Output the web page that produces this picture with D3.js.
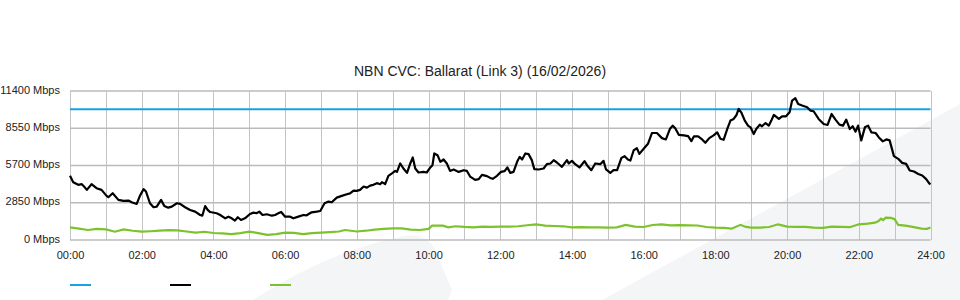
<!DOCTYPE html>
<html>
<head>
<meta charset="utf-8">
<script src="https://cdn.jsdelivr.net/npm/d3@7"></script>
<style>
  body { margin: 0; background: #fff; }
  svg { display: block; font-family: "Liberation Sans", Arial, sans-serif; }
</style>
</head>
<body>
<svg width="960" height="300"></svg>
<script>
// chart values
var title = "NBN CVC: Ballarat (Link 3) (16/02/2026)";
var yTicks = [0, 2850, 5700, 8550, 11400];
var xTickHours = [0, 2, 4, 6, 8, 10, 12, 14, 16, 18, 20, 22, 24];
var capacity = 10000;

var totalHours = [0.00,0.09,0.23,0.33,0.39,0.47,0.60,0.74,0.88,1.02,1.07,1.19,1.35,1.49,1.63,1.72,1.86,1.95,
  2.05,2.12,2.23,2.33,2.42,2.54,2.63,2.74,2.84,2.98,3.07,3.21,3.35,3.49,3.63,3.69,3.77,3.84,3.91,
  4.09,4.19,4.33,4.42,4.51,4.60,4.68,4.77,4.88,5.02,5.12,5.20,5.28,5.37,5.49,5.63,5.72,5.81,5.89,
  6.00,6.14,6.23,6.37,6.51,6.60,6.74,6.88,6.98,7.10,7.21,7.30,7.44,7.58,7.72,7.81,7.91,
  8.00,8.09,8.19,8.28,8.37,8.46,8.56,8.65,8.70,8.79,8.88,9.00,9.07,9.12,9.21,9.30,9.40,9.49,9.56,9.63,9.72,9.86,9.95,
  10.05,10.11,10.16,10.25,10.33,10.42,10.51,10.60,10.70,10.84,10.98,11.07,11.16,11.30,11.40,11.49,11.63,11.72,11.79,11.91,
  12.02,12.12,12.20,12.28,12.37,12.47,12.54,12.61,12.70,12.79,12.88,12.95,13.07,13.21,13.30,13.40,13.49,13.58,13.72,13.86,13.91,
  14.00,14.09,14.21,14.35,14.42,14.54,14.65,14.79,14.88,14.95,15.07,15.16,15.26,15.38,15.47,15.56,15.63,15.72,15.81,15.88,
  16.00,16.12,16.23,16.37,16.51,16.62,16.73,16.81,16.88,16.98,17.12,17.24,17.33,17.40,17.52,17.61,17.72,17.83,17.95,
  18.05,18.14,18.23,18.33,18.42,18.51,18.59,18.65,18.73,18.82,18.91,18.98,19.07,19.14,19.24,19.30,19.40,19.49,19.56,19.63,19.77,19.86,19.97,
  20.07,20.14,20.23,20.31,20.42,20.56,20.65,20.74,20.88,21.02,21.13,21.24,21.35,21.46,21.56,21.65,21.75,21.83,21.91,21.98,
  22.07,22.17,22.26,22.35,22.47,22.56,22.67,22.77,22.86,22.98,23.10,23.21,23.32,23.42,23.54,23.66,23.77,23.88,23.97,24.00];
var totalMbps = [4910,4425,4220,4270,4100,3835,4270,3965,3835,3375,3275,3580,3070,2990,3015,2890,2760,3375,
  3890,3705,2810,2505,2550,3070,2605,2475,2550,2810,2760,2505,2300,2170,1915,1860,2600,2300,2140,
  2045,1915,1660,1785,1660,1480,1740,1530,1660,1990,2095,2045,2170,1915,1970,1860,1915,2045,2145,
  1785,1785,1660,1785,1915,1890,2120,2170,2220,2810,2940,2890,3245,3375,3505,3570,3780,
  3760,3835,4090,4010,4165,4220,4350,4270,4425,4270,4910,5135,5285,5210,5855,5470,5135,5855,6315,5470,5165,5210,5165,
  5550,5725,6620,6490,5980,6160,5855,5285,5395,5210,5340,5285,4855,4600,4655,4985,4890,4750,4680,4910,
  5210,5265,5550,5135,5210,5980,6360,6160,6620,6570,6110,5420,5395,5470,5800,5855,6110,5930,5595,6110,5855,
  6055,5800,5550,6030,5725,5340,5855,5800,6055,5395,5135,5340,5340,6285,6415,6160,6080,6850,7030,6590,
  6975,7360,8185,8185,7795,7695,8490,8750,8545,8050,8005,7950,7565,7925,7925,7745,7435,7795,8005,
  8240,7745,7665,8490,9135,9260,9565,10030,9720,9135,8750,8620,8110,8490,8830,8700,8950,8750,9135,9565,9260,9465,9465,
  9775,10670,10850,10410,10285,10155,9900,9850,9260,8875,8800,9640,9210,8830,8750,9210,8490,8700,8290,8750,
  7620,8620,8750,8240,8185,7850,7545,7695,7620,6415,6210,5900,5825,5315,5240,5055,4935,4655,4320,4270];

var otherHours = [0,0.25,0.5,0.75,1,1.15,1.25,1.5,1.75,2,2.25,2.5,2.75,3,3.25,3.5,3.75,4,4.25,4.5,4.75,5,5.25,5.5,5.75,
  6,6.25,6.5,6.75,7,7.25,7.5,7.67,8,8.25,8.5,8.75,9,9.25,9.5,9.75,10,10.1,10.4,10.55,10.75,11,11.25,11.5,11.75,
  12,12.25,12.5,12.75,13,13.25,13.5,13.75,14,14.25,14.5,14.75,15,15.25,15.5,15.75,16,16.25,16.5,16.75,17,17.25,17.5,17.75,
  18,18.25,18.45,18.7,18.85,19,19.25,19.5,19.75,20,20.25,20.5,20.75,21,21.25,21.5,21.75,22,22.25,22.45,22.55,22.62,22.68,22.75,22.9,
  23,23.1,23.3,23.5,23.75,23.9,24];
var otherMbps = [970,870,764,850,815,710,634,815,710,634,670,710,750,740,650,565,630,535,500,457,530,634,530,390,450,
  565,550,457,530,565,600,650,764,650,710,800,850,890,890,790,764,850,1095,1095,970,1050,1000,970,1020,1000,
  1020,1020,1050,1130,1200,1100,1070,1050,970,990,970,970,950,970,1150,1020,995,1150,1200,1125,1140,1125,1110,995,
  950,930,865,1160,1000,950,950,995,1200,1020,1010,1010,950,930,1020,1000,980,1200,1250,1325,1450,1630,1530,1710,1690,
  1600,1150,1100,1000,865,850,950];

var seriesColors = ["#1ba1e2", "#000000", "#7cc22d"];

var svg = d3.select("svg"),
    plotLeft = 70, plotRight = 930.5, plotTop = 91, plotBottom = 240;

// faint background swooshes
svg.append("path")
  .attr("d", "M253,300 Q330,250 405,236 Q428,233 436,252 L452,290 L448,300 Z")
  .attr("fill", "#f4f5f7");
svg.append("path")
  .attr("d", "M602,300 L960,104 L960,300 Z")
  .attr("fill", "#f4f5f7");

var x = d3.scaleLinear().domain([0, 24]).range([plotLeft, plotRight]);
var y = d3.scaleLinear().domain([0, 11400]).range([plotBottom, plotTop]);

// vertical grid, every hour
svg.append("g")
  .selectAll("line")
  .data(d3.range(0, 25))
  .enter().append("line")
  .attr("x1", function(d) { return Math.round(x(d)) + 0.5; })
  .attr("x2", function(d) { return Math.round(x(d)) + 0.5; })
  .attr("y1", plotTop).attr("y2", plotBottom)
  .attr("stroke", "#c4c4c4");

// horizontal grid
svg.append("g")
  .selectAll("line")
  .data(yTicks)
  .enter().append("line")
  .attr("x1", plotLeft).attr("x2", plotRight)
  .attr("y1", function(d) { return y(d); })
  .attr("y2", function(d) { return y(d); })
  .attr("stroke", "#bbbbbb")
  .attr("stroke-width", 1.5);

// axes text
var yAxis = svg.append("g")
  .attr("transform", "translate(" + plotLeft + ",0)")
  .call(d3.axisLeft(y).tickValues(yTicks).tickSize(0).tickPadding(10)
    .tickFormat(function(d) { return d + " Mbps"; }));
yAxis.select(".domain").remove();
yAxis.selectAll("text").attr("font-size", "11px").attr("fill", "#222")
  .attr("font-family", "Liberation Sans, Arial, sans-serif").attr("dy", "0.2em");

var xAxis = svg.append("g")
  .attr("transform", "translate(0," + plotBottom + ")")
  .call(d3.axisBottom(x).tickValues(xTickHours).tickSize(0).tickPadding(11)
    .tickFormat(function(d) { return (d < 10 ? "0" : "") + d + ":00"; }));
xAxis.select(".domain").remove();
xAxis.selectAll("text").attr("font-size", "11px").attr("fill", "#222")
  .attr("font-family", "Liberation Sans, Arial, sans-serif");

svg.append("text")
  .attr("x", 480)
  .attr("y", 76)
  .attr("text-anchor", "middle")
  .attr("font-size", "14px")
  .attr("fill", "#222")
  .text(title);

// capacity
svg.append("line")
  .attr("x1", plotLeft).attr("x2", plotRight)
  .attr("y1", y(capacity)).attr("y2", y(capacity))
  .attr("stroke", seriesColors[0])
  .attr("stroke-width", 2);

var line = d3.line()
  .x(function(d) { return x(d[0]); })
  .y(function(d) { return y(d[1]); });

svg.append("path")
  .datum(d3.zip(otherHours, otherMbps))
  .attr("d", line)
  .attr("fill", "none")
  .attr("stroke", seriesColors[2])
  .attr("stroke-width", 2.2);

svg.append("path")
  .datum(d3.zip(totalHours, totalMbps))
  .attr("d", line)
  .attr("fill", "none")
  .attr("stroke", seriesColors[1])
  .attr("stroke-width", 2.2)
  .attr("stroke-linejoin", "round");

// legend swatches
svg.append("g")
  .selectAll("line")
  .data(seriesColors)
  .enter().append("line")
  .attr("x1", function(d, i) { return 70 + i * 100; })
  .attr("x2", function(d, i) { return 91 + i * 100; })
  .attr("y1", 285).attr("y2", 285)
  .attr("stroke", function(d) { return d; })
  .attr("stroke-width", 2);
</script>
</body>
</html>
